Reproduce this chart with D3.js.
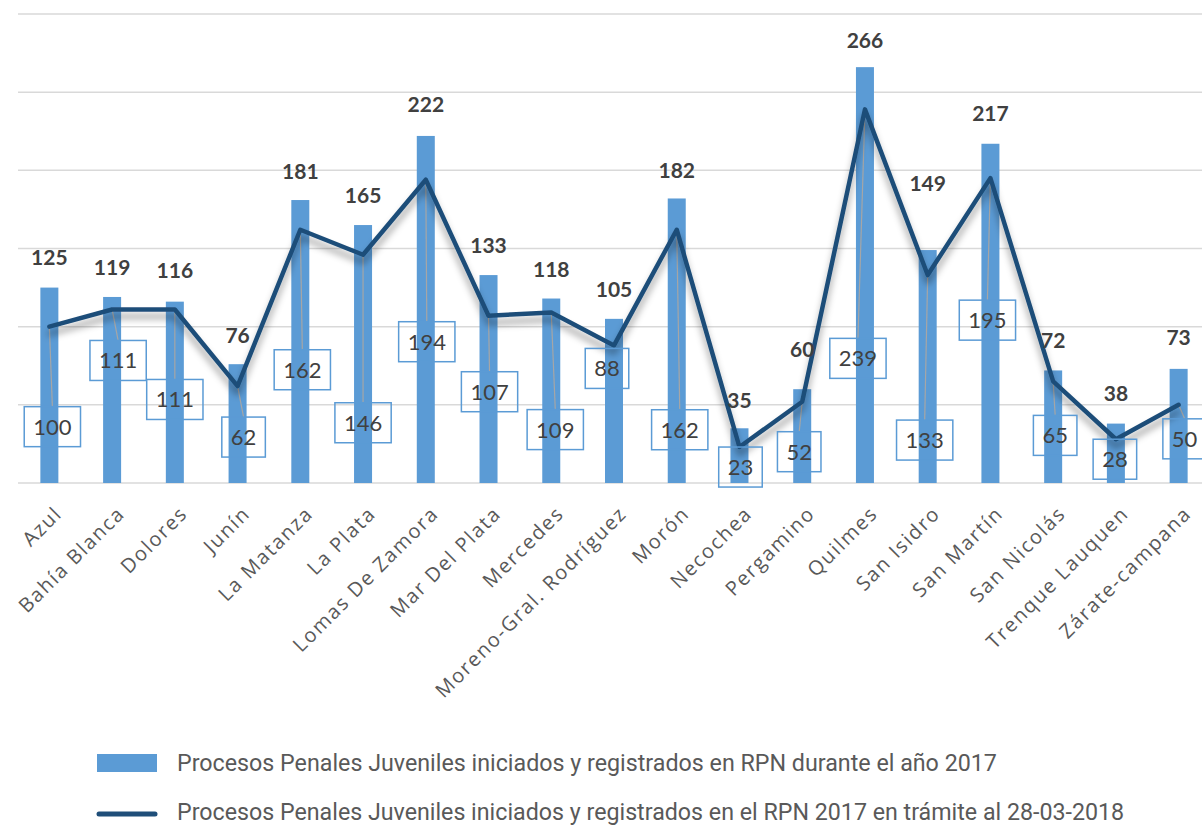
<!DOCTYPE html>
<html>
<head>
<meta charset="utf-8">
<script src="https://cdn.jsdelivr.net/npm/d3@7"></script>
<style>
  html, body { margin: 0; padding: 0; background: #ffffff; }
  svg { display: block; }
</style>
</head>
<body>
<script>
// ---- DATA ----
const categories = ["Azul", "Bahía Blanca", "Dolores", "Junín", "La Matanza", "La Plata",
  "Lomas De Zamora", "Mar Del Plata", "Mercedes", "Moreno-Gral. Rodríguez", "Morón",
  "Necochea", "Pergamino", "Quilmes", "San Isidro", "San Martín", "San Nicolás",
  "Trenque Lauquen", "Zárate-campana"];
const iniciados = [125, 119, 116, 76, 181, 165, 222, 133, 118, 105, 182, 35, 60, 266, 149, 217, 72, 38, 73];
const enTramite = [100, 111, 111, 62, 162, 146, 194, 107, 109, 88, 162, 23, 52, 239, 133, 195, 65, 28, 50];
const yTicks = [0, 50, 100, 150, 200, 250, 300];
const seriesNames = [
  "Procesos Penales Juveniles iniciados y registrados en RPN durante el año 2017",
  "Procesos Penales Juveniles iniciados y registrados en el RPN 2017 en trámite al 28-03-2018"
];

// ---- LAYOUT (label placement, pixels) ----
const barLabelDy = [-30, -29, -31, -29, -28, -29, -31, -29, -29, -29, -28, -28, -40, -27, -66, -30, -30, -30, -31];
const lineLabelDx = [3, 6, 0, 6, 2, 0, 1, 1, 4, -7, 3, 1, -3, -7, -3, -3, 2, -1, 6];
const lineLabelDy = [100, 51, 90, 51, 140, 168, 162, 76, 117, 23, 200, 20, 50, 249, 165, 142, 54, 20, 34];

const W = 1202, H = 826;
const barColor = "#5b9bd5", lineColor = "#1f4e79", textColor = "#404040", axisColor = "#595959";

const svg = d3.select("body").append("svg").attr("width", W).attr("height", H);

const defs = svg.append("defs");
const f = defs.append("filter").attr("id", "shadow").attr("x", "-10%").attr("y", "-20%").attr("width", "120%").attr("height", "160%");
f.append("feDropShadow").attr("dx", 0).attr("dy", 7).attr("stdDeviation", 3.5)
  .attr("flood-color", "#000").attr("flood-opacity", 0.38);

const x = d3.scaleBand().domain(categories).range([18, 1210]).padding(0);
const y = d3.scaleLinear().domain([0, 300]).range([483, 14]);
const cx = d => x(d) + x.bandwidth() / 2;
const barW = 18;

// gridlines
svg.append("g").selectAll("line").data(yTicks).join("line")
  .attr("x1", 18).attr("x2", W)
  .attr("y1", d => y(d)).attr("y2", d => y(d))
  .attr("stroke", "#d9d9d9").attr("stroke-width", 1.5);

// bars
svg.append("g").selectAll("rect").data(categories).join("rect")
  .attr("x", d => cx(d) - barW / 2)
  .attr("width", barW)
  .attr("y", (d, i) => y(iniciados[i]))
  .attr("height", (d, i) => y(0) - y(iniciados[i]))
  .attr("fill", barColor);

// leader lines for line labels
const leaders = svg.append("g");
categories.forEach((c, i) => {
  const px = cx(c), py = y(enTramite[i]);
  const ly = py + lineLabelDy[i] - 20;
  if (ly - py > 8) {
    leaders.append("line")
      .attr("x1", px).attr("y1", py)
      .attr("x2", px + lineLabelDx[i]).attr("y2", ly)
      .attr("stroke", "#a6a6a6").attr("stroke-width", 1.2);
  }
});

// line
const lineGen = d3.line().x((d, i) => cx(categories[i])).y(d => y(d));
svg.append("path").datum(enTramite)
  .attr("d", lineGen)
  .attr("fill", "none")
  .attr("stroke", lineColor)
  .attr("stroke-width", 4.5)
  .attr("stroke-linejoin", "round")
  .attr("stroke-linecap", "round")
  .attr("filter", "url(#shadow)");

// bar labels
svg.append("g").selectAll("text").data(categories).join("text")
  .attr("x", d => cx(d))
  .attr("y", (d, i) => y(iniciados[i]) + barLabelDy[i])
  .attr("dy", "0.35em")
  .attr("text-anchor", "middle")
  .attr("font-family", "Lato, 'Open Sans', sans-serif")
  .attr("font-weight", "bold")
  .attr("font-size", 21)
  .attr("fill", textColor)
  .text((d, i) => iniciados[i]);

// line labels with boxes
const lbl = svg.append("g");
categories.forEach((c, i) => {
  const lx = cx(c) + lineLabelDx[i], ly = y(enTramite[i]) + lineLabelDy[i];
  const g = lbl.append("g");
  const t = g.append("text")
    .attr("x", lx).attr("y", ly).attr("dy", "0.36em")
    .attr("text-anchor", "middle")
    .attr("font-family", "Lato, 'Open Sans', sans-serif")
    .attr("font-size", 22)
    .attr("fill", textColor)
    .text(enTramite[i]);
  const w = t.node().getComputedTextLength() + 18;
  g.insert("rect", "text")
    .attr("x", lx - w / 2).attr("y", ly - 20)
    .attr("width", w).attr("height", 40)
    .attr("fill", "none")
    .attr("stroke", barColor).attr("stroke-width", 1.5);
});

// x axis labels
svg.append("g").selectAll("text").data(categories).join("text")
  .attr("transform", d => `translate(${cx(d) + 4},${505}) rotate(-45)`)
  .attr("text-anchor", "end")
  .attr("dy", "0.7em")
  .attr("font-family", "'Open Sans', sans-serif")
  .attr("font-size", 20)
  .attr("letter-spacing", 1.7)
  .attr("fill", axisColor)
  .text(d => d);

// legend
const leg = svg.append("g");
leg.append("rect").attr("x", 97).attr("y", 754).attr("width", 60).attr("height", 18).attr("fill", barColor);
leg.append("line").attr("x1", 99).attr("x2", 155).attr("y1", 814).attr("y2", 814)
  .attr("stroke", lineColor).attr("stroke-width", 5).attr("stroke-linecap", "round");
const legTargets = [997, 1125];
[763, 812].forEach((yy, i) => {
  const t = leg.append("text").attr("x", 177).attr("y", yy).attr("dy", "0.35em")
    .attr("font-family", "Roboto, sans-serif").attr("font-size", 18)
    .attr("fill", axisColor).text(seriesNames[i]);
  const len = t.node().getComputedTextLength();
  t.attr("font-size", 18 * (legTargets[i] - 177) / len);
});
</script>
</body>
</html>
